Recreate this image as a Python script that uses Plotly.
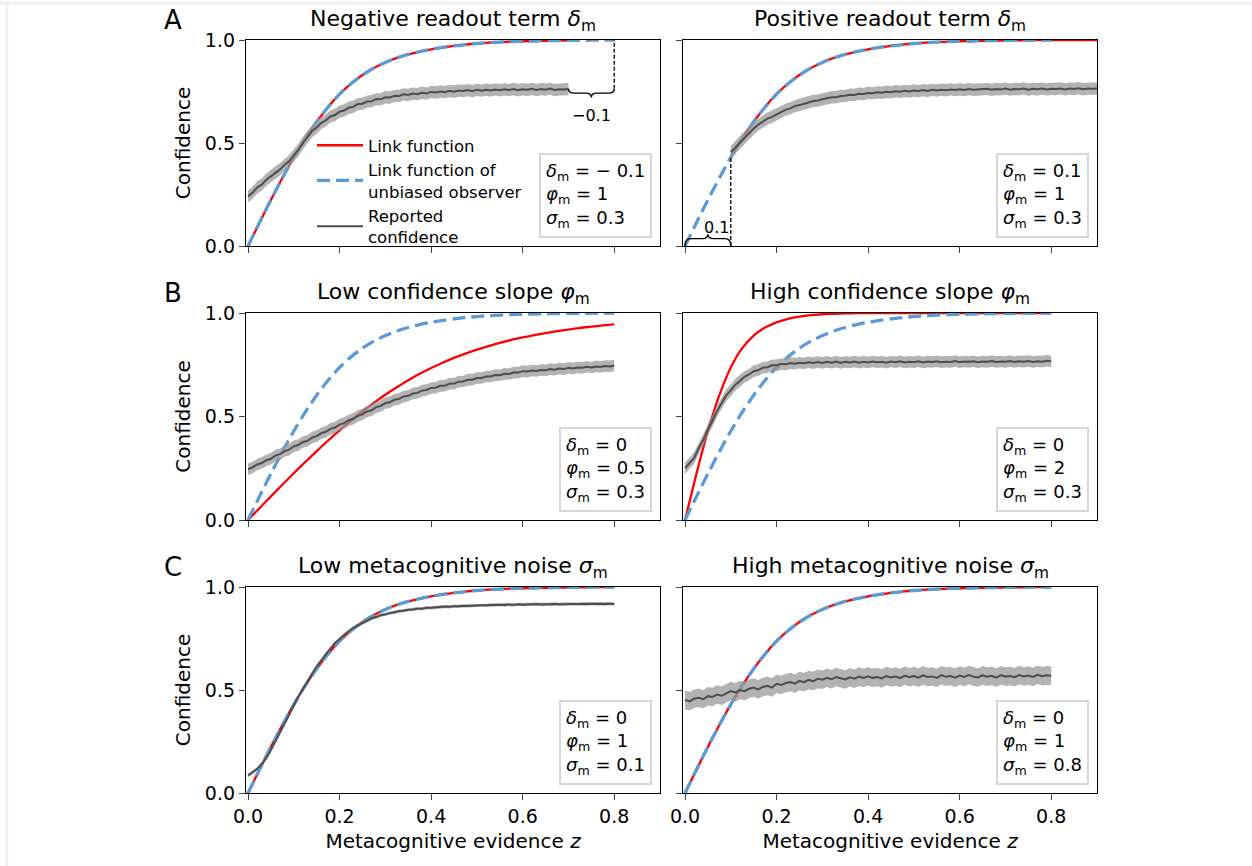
import numpy as np
import plotly.graph_objects as go

W, H = 1252, 866
FONT = "DejaVu Sans"

# ---------------- data ----------------
# link function of the unbiased observer (phi = 1), z = 0 .. 0.9 in steps of 0.025
Z_LINK = np.linspace(0.0, 0.9, 37)
LINK_UNBIASED = [0.000, 0.113, 0.224, 0.330, 0.430, 0.521, 0.603, 0.675, 0.737, 0.788,
                 0.830, 0.864, 0.891, 0.913, 0.930, 0.944, 0.955, 0.964, 0.972, 0.978,
                 0.983, 0.987, 0.990, 0.992, 0.994, 0.995, 0.996, 0.997, 0.998, 0.998,
                 0.999, 0.999, 0.999, 1.000, 1.000, 1.000, 1.000]

# link functions with other slopes, z = 0 .. 0.8 in steps of 0.025
Z_SLOPE = np.linspace(0.0, 0.8, 33)
LINK_SLOPE_LOW = [0.000, 0.057, 0.114, 0.170, 0.226, 0.280, 0.333, 0.384, 0.433, 0.480,
                  0.524, 0.566, 0.605, 0.641, 0.675, 0.706, 0.734, 0.760, 0.783, 0.804,
                  0.823, 0.840, 0.856, 0.870, 0.882, 0.893, 0.903, 0.912, 0.920, 0.928,
                  0.934, 0.940, 0.945]
LINK_SLOPE_HIGH = [0.000, 0.224, 0.430, 0.603, 0.737, 0.830, 0.891, 0.930, 0.955, 0.972,
                   0.983, 0.990, 0.994, 0.996, 0.998, 0.999, 0.999, 1.000, 1.000, 1.000,
                   1.000, 1.000, 1.000, 1.000, 1.000, 1.000, 1.000, 1.000, 1.000, 1.000,
                   1.000, 1.000, 1.000]

# reported confidence (mean), sampled every 0.01 in z
REPORT_NEG_DELTA = [  # z = 0.00 .. 0.70
    0.241, 0.259, 0.284, 0.298, 0.322, 0.338, 0.357, 0.372, 0.394, 0.412,
    0.440, 0.466, 0.500, 0.529, 0.557, 0.575, 0.598, 0.610, 0.629, 0.636,
    0.652, 0.658, 0.671, 0.676, 0.689, 0.691, 0.701, 0.703, 0.713, 0.712,
    0.722, 0.721, 0.729, 0.728, 0.736, 0.733, 0.740, 0.737, 0.744, 0.740,
    0.748, 0.745, 0.750, 0.747, 0.753, 0.749, 0.755, 0.752, 0.757, 0.751,
    0.758, 0.754, 0.759, 0.755, 0.760, 0.756, 0.761, 0.757, 0.762, 0.756,
    0.761, 0.758, 0.763, 0.757, 0.762, 0.759, 0.764, 0.757, 0.761, 0.760,
    0.762]
REPORT_POS_DELTA = [  # z = 0.10 .. 0.90
    0.455, 0.478, 0.505, 0.527, 0.552, 0.570, 0.589, 0.604, 0.618, 0.627,
    0.640, 0.650, 0.662, 0.668, 0.679, 0.684, 0.692, 0.697, 0.704, 0.706,
    0.712, 0.716, 0.722, 0.722, 0.728, 0.729, 0.734, 0.733, 0.739, 0.738,
    0.743, 0.741, 0.746, 0.744, 0.749, 0.746, 0.751, 0.749, 0.753, 0.750,
    0.755, 0.752, 0.757, 0.753, 0.758, 0.755, 0.759, 0.756, 0.760, 0.757,
    0.761, 0.757, 0.762, 0.758, 0.760, 0.759, 0.763, 0.758, 0.762, 0.760,
    0.764, 0.759, 0.762, 0.761, 0.765, 0.759, 0.763, 0.761, 0.764, 0.760,
    0.763, 0.762, 0.765, 0.760, 0.764, 0.762, 0.766, 0.761, 0.764, 0.763,
    0.765]
REPORT_SLOPE_LOW = [  # z = 0.00 .. 0.80
    0.245, 0.254, 0.268, 0.275, 0.289, 0.296, 0.311, 0.318, 0.333, 0.340,
    0.356, 0.362, 0.377, 0.383, 0.398, 0.405, 0.419, 0.426, 0.440, 0.447,
    0.461, 0.468, 0.482, 0.489, 0.503, 0.510, 0.524, 0.530, 0.545, 0.551,
    0.565, 0.569, 0.581, 0.585, 0.597, 0.600, 0.611, 0.614, 0.625, 0.628,
    0.638, 0.639, 0.648, 0.649, 0.658, 0.659, 0.668, 0.669, 0.677, 0.678,
    0.686, 0.686, 0.693, 0.693, 0.700, 0.699, 0.706, 0.705, 0.712, 0.712,
    0.719, 0.717, 0.722, 0.720, 0.725, 0.723, 0.729, 0.726, 0.732, 0.729,
    0.735, 0.732, 0.737, 0.735, 0.740, 0.737, 0.742, 0.739, 0.744, 0.742,
    0.746]
REPORT_SLOPE_HIGH = [  # z = 0.00 .. 0.80
    0.250, 0.274, 0.300, 0.347, 0.388, 0.437, 0.478, 0.527, 0.563, 0.602,
    0.626, 0.654, 0.671, 0.692, 0.703, 0.719, 0.724, 0.736, 0.738, 0.747,
    0.747, 0.754, 0.752, 0.758, 0.755, 0.760, 0.757, 0.762, 0.758, 0.763,
    0.759, 0.764, 0.760, 0.765, 0.759, 0.764, 0.761, 0.766, 0.760, 0.765,
    0.761, 0.766, 0.762, 0.765, 0.760, 0.766, 0.762, 0.767, 0.761, 0.765,
    0.762, 0.767, 0.761, 0.766, 0.763, 0.767, 0.762, 0.765, 0.763, 0.768,
    0.762, 0.766, 0.764, 0.767, 0.762, 0.766, 0.764, 0.768, 0.763, 0.766,
    0.764, 0.768, 0.763, 0.767, 0.765, 0.768, 0.763, 0.767, 0.765, 0.769,
    0.767]
REPORT_NOISE_LOW = [  # z = 0.00 .. 0.80
    0.085, 0.101, 0.117, 0.141, 0.169, 0.209, 0.249, 0.295, 0.337, 0.383,
    0.424, 0.467, 0.505, 0.545, 0.579, 0.615, 0.645, 0.676, 0.701, 0.728,
    0.748, 0.769, 0.785, 0.802, 0.814, 0.828, 0.837, 0.848, 0.854, 0.863,
    0.867, 0.874, 0.877, 0.883, 0.885, 0.890, 0.891, 0.895, 0.895, 0.899,
    0.899, 0.902, 0.902, 0.905, 0.904, 0.907, 0.906, 0.909, 0.908, 0.910,
    0.910, 0.912, 0.911, 0.913, 0.912, 0.914, 0.913, 0.915, 0.913, 0.916,
    0.914, 0.916, 0.915, 0.917, 0.915, 0.917, 0.916, 0.918, 0.916, 0.918,
    0.917, 0.918, 0.917, 0.919, 0.917, 0.919, 0.918, 0.919, 0.917, 0.919,
    0.918]
REPORT_NOISE_HIGH = [  # z = 0.00 .. 0.80
    0.452, 0.445, 0.458, 0.462, 0.455, 0.470, 0.466, 0.478, 0.472, 0.485,
    0.495, 0.488, 0.500, 0.494, 0.506, 0.512, 0.503, 0.515, 0.520, 0.512,
    0.530, 0.524, 0.534, 0.539, 0.531, 0.544, 0.538, 0.549, 0.543, 0.554,
    0.550, 0.559, 0.552, 0.563, 0.556, 0.551, 0.562, 0.555, 0.565, 0.558,
    0.567, 0.559, 0.563, 0.556, 0.568, 0.561, 0.565, 0.558, 0.570, 0.562,
    0.568, 0.560, 0.571, 0.563, 0.566, 0.559, 0.572, 0.564, 0.568, 0.560,
    0.570, 0.563, 0.573, 0.565, 0.561, 0.571, 0.564, 0.569, 0.560, 0.572,
    0.565, 0.568, 0.562, 0.573, 0.566, 0.570, 0.563, 0.574, 0.567, 0.571,
    0.569]

# panel descriptions
PANEL_TITLES = ["Negative readout term <i>δ</i><sub>m</sub>",
                "Positive readout term <i>δ</i><sub>m</sub>",
                "Low confidence slope <i>φ</i><sub>m</sub>",
                "High confidence slope <i>φ</i><sub>m</sub>",
                "Low metacognitive noise <i>σ</i><sub>m</sub>",
                "High metacognitive noise <i>σ</i><sub>m</sub>"]
PANEL_LETTERS = ["A", "B", "C"]
DELTA = [-0.1, 0.1, 0, 0, 0, 0]
PHI = [1, 1, 0.5, 2, 1, 1]
SIGMA = [0.3, 0.3, 0.3, 0.3, 0.1, 0.8]
BAND_HALF_WIDTH = [0.03, 0.03, 0.028, 0.028, 0.008, 0.045]
REPORTS = [REPORT_NEG_DELTA, REPORT_POS_DELTA, REPORT_SLOPE_LOW,
           REPORT_SLOPE_HIGH, REPORT_NOISE_LOW, REPORT_NOISE_HIGH]
X_TICKS = [0.0, 0.2, 0.4, 0.6, 0.8]
Y_TICKS = [0.0, 0.5, 1.0]

LEGEND_NAMES = ["Link function", "Link function of<br>unbiased observer",
                "Reported<br>confidence"]

# ---------------- styling ----------------
RED = "#ff0000"
BLUE = "#5b9bd5"
GRAY_LINE = "#4d4d4d"
GRAY_BAND = "rgba(150,150,150,0.72)"

COL_PX = [(246, 660), (683, 1097)]
ROW_PX = [(40, 246), (313, 520), (587, 793)]
X_RANGE = [-0.0044, 0.9]


def fmt(v):
    s = f"{v:g}"
    if v < 0:
        s = "− " + s[1:]
    return s


def num(v):
    return f"{v:.1f}"


fig = go.Figure()
layout = dict(width=W, height=H, autosize=False,
              margin=dict(l=0, r=0, t=0, b=0, pad=0),
              paper_bgcolor="white", plot_bgcolor="white",
              font=dict(family=FONT, color="black", size=19),
              showlegend=True)
annotations = []
shapes = []

for p in range(6):
    r, c = divmod(p, 2)
    ax = "" if p == 0 else str(p + 1)
    xref, yref = "x" + ax, "y" + ax
    x0p, x1p = COL_PX[c]
    y0p, y1p = ROW_PX[r]
    layout["xaxis" + ax] = dict(
        domain=[x0p / W, x1p / W], anchor=yref, range=X_RANGE,
        tickvals=X_TICKS, ticktext=[num(v) for v in X_TICKS],
        showticklabels=(r == 2), ticks="outside", ticklen=6, tickwidth=1.3,
        showline=True, linecolor="black", linewidth=1.3, mirror=True,
        showgrid=False, zeroline=False, tickfont=dict(size=19),
        automargin=False,
        title=dict(text="Metacognitive evidence <i>z</i>" if r == 2 else "",
                   font=dict(size=20), standoff=8))
    layout["yaxis" + ax] = dict(
        domain=[1 - y1p / H, 1 - y0p / H], anchor=xref, range=[0, 1],
        tickvals=Y_TICKS, ticktext=[num(v) for v in Y_TICKS],
        showticklabels=(c == 0), ticks="outside", ticklen=6, tickwidth=1.3,
        showline=True, linecolor="black", linewidth=1.3, mirror=True,
        showgrid=False, zeroline=False, tickfont=dict(size=19),
        automargin=False,
        title=dict(text="Confidence" if c == 0 else "",
                   font=dict(size=20), standoff=8))

    # link function (red)
    if p in (2, 3):
        zr = Z_SLOPE
        yr = LINK_SLOPE_LOW if p == 2 else LINK_SLOPE_HIGH
    else:
        lo = max(0.0, DELTA[p])
        hi = 0.8 + DELTA[p]
        mask = (Z_LINK >= lo - 1e-9) & (Z_LINK <= hi + 1e-9)
        zr = Z_LINK[mask]
        yr = list(np.array(LINK_UNBIASED)[mask])
    fig.add_trace(go.Scatter(x=zr, y=yr, mode="lines", xaxis=xref, yaxis=yref,
                             line=dict(color=RED, width=2.3, shape="spline", smoothing=0.6),
                             name=LEGEND_NAMES[0], showlegend=(p == 0),
                             legendrank=1, hoverinfo="skip"))
    # unbiased link function (blue dashed)
    mask_b = Z_LINK <= 0.8 + 1e-9
    fig.add_trace(go.Scatter(x=Z_LINK[mask_b], y=np.array(LINK_UNBIASED)[mask_b],
                             mode="lines", xaxis=xref, yaxis=yref,
                             line=dict(color=BLUE, width=3.3, dash="13px,6px",
                                       shape="spline", smoothing=0.6),
                             name=LEGEND_NAMES[1], showlegend=(p == 0),
                             legendrank=2, hoverinfo="skip"))
    # reported confidence
    rep = np.array(REPORTS[p])
    z_start = max(0.0, DELTA[p])
    zg = np.linspace(z_start, z_start + 0.01 * (len(rep) - 1), len(rep))
    hw = BAND_HALF_WIDTH[p]
    fig.add_trace(go.Scatter(x=np.concatenate([zg, zg[::-1]]),
                             y=np.concatenate([rep - hw, (rep + hw)[::-1]]),
                             mode="lines", fill="toself", fillcolor=GRAY_BAND,
                             line=dict(width=0, color=GRAY_BAND),
                             xaxis=xref, yaxis=yref, showlegend=False,
                             hoverinfo="skip"))
    fig.add_trace(go.Scatter(x=zg, y=rep, mode="lines", xaxis=xref, yaxis=yref,
                             line=dict(color=GRAY_LINE, width=2),
                             name=LEGEND_NAMES[2], showlegend=(p == 0),
                             legendrank=3, hoverinfo="skip"))

    # title
    annotations.append(dict(text=PANEL_TITLES[p], xref=xref + " domain",
                            yref=yref + " domain", x=0.5, y=1.0,
                            xanchor="center", yanchor="bottom", yshift=3,
                            showarrow=False, font=dict(size=22)))
    # parameter box
    box = (f"<i>δ</i><sub>m</sub> = {fmt(DELTA[p])}<br>"
           f"<i>φ</i><sub>m</sub> = {fmt(PHI[p])}<br>"
           f"<i>σ</i><sub>m</sub> = {fmt(SIGMA[p])}")
    annotations.append(dict(text=box, xref=xref + " domain", yref=yref + " domain",
                            x=1 - 8 / (x1p - x0p), y=8 / (y1p - y0p),
                            xanchor="right", yanchor="bottom", align="left",
                            showarrow=False, font=dict(size=18),
                            bgcolor="white", bordercolor="#d6d6d6",
                            borderwidth=2, borderpad=5))

# panel letters
for r, letter in enumerate(PANEL_LETTERS):
    annotations.append(dict(text=letter, xref="paper", yref="paper",
                            x=173 / W, y=1 - (ROW_PX[r][0] - 20) / H,
                            xanchor="center", yanchor="middle",
                            showarrow=False, font=dict(size=26)))


def brace_path(xa, xb, y_end, y_body, y_tip, e=0.012):
    xm = (xa + xb) / 2
    return (f"M {xa},{y_end} Q {xa},{y_body} {xa + e},{y_body} "
            f"L {xm - e},{y_body} Q {xm},{y_body} {xm},{y_tip} "
            f"Q {xm},{y_body} {xm + e},{y_body} L {xb - e},{y_body} "
            f"Q {xb},{y_body} {xb},{y_end}")


# panel A left: negative readout term annotation
d = DELTA[0]
shapes.append(dict(type="path", xref="x", yref="y",
                   path=brace_path(0.8 + d, 0.8, 0.763, 0.742, 0.721),
                   line=dict(color="black", width=1.4)))
shapes.append(dict(type="line", xref="x", yref="y", x0=0.8, x1=0.8,
                   y0=0.763, y1=1.0, line=dict(color="black", width=1.3, dash="4px,2px")))
annotations.append(dict(text=fmt(d).replace(" ", ""), xref="x", yref="y",
                        x=0.8 + d / 2, y=0.635, showarrow=False,
                        xanchor="center", yanchor="middle", font=dict(size=16)))

# panel A right: positive readout term annotation
d = DELTA[1]
y_at_delta = LINK_UNBIASED[int(round(d / 0.025))]
shapes.append(dict(type="path", xref="x2", yref="y2",
                   path=brace_path(0.0, d, 0.0, 0.036, 0.057),
                   line=dict(color="black", width=1.4)))
shapes.append(dict(type="line", xref="x2", yref="y2", x0=d, x1=d,
                   y0=0.0, y1=y_at_delta, line=dict(color="black", width=1.3, dash="4px,2px")))
annotations.append(dict(text=fmt(d), xref="x2", yref="y2",
                        x=0.068, y=0.09, showarrow=False,
                        xanchor="center", yanchor="middle", font=dict(size=16)))

# light frame of the picture
shapes.append(dict(type="line", xref="paper", yref="paper", x0=0, x1=1,
                   y0=1 - 3 / H, y1=1 - 3 / H, line=dict(color="#f0f0f0", width=3)))
shapes.append(dict(type="line", xref="paper", yref="paper", x0=7 / W, x1=7 / W,
                   y0=0, y1=1 - 3 / H, line=dict(color="#f0f0f0", width=3)))

layout["annotations"] = annotations
layout["shapes"] = shapes
layout["legend"] = dict(x=312 / W, y=1 - 128 / H, xanchor="left", yanchor="top",
                        bgcolor="rgba(0,0,0,0)", borderwidth=0,
                        font=dict(size=16.5), itemwidth=46, tracegroupgap=0,
                        traceorder="normal", valign="middle")
fig.update_layout(**layout)
fig.write_html("out.html")
